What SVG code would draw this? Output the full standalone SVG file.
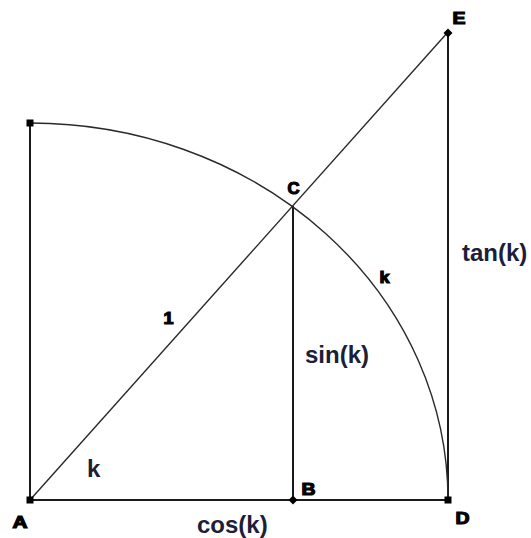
<svg xmlns="http://www.w3.org/2000/svg" width="531" height="538" viewBox="0 0 531 538">
<style>
.ln{stroke:#1a1a1a;stroke-width:2;fill:none}
.thin{stroke:#2a2a2a;stroke-width:1.4;fill:none}
.pt{fill:#000}
.lbl{font-family:"Liberation Sans",Arial,sans-serif;font-weight:bold;font-size:16.5px;fill:#000;stroke:#000;stroke-width:1.2}
.big{font-family:"Liberation Sans",Arial,sans-serif;font-weight:bold;font-size:24px;fill:#1b2038}
</style>
<rect width="531" height="538" fill="#fff"/>
<g id="connectors">
<line class="ln" x1="30" y1="500" x2="30" y2="123"/>
<line class="ln" x1="30" y1="500" x2="448" y2="500"/>
<line class="thin" x1="30" y1="500" x2="448" y2="32"/>
<line class="ln" x1="293" y1="206" x2="293" y2="500"/>
<line class="ln" x1="448" y1="32" x2="448" y2="500"/>
<path class="thin" d="M30,123 A418,377 0 0 1 448,500"/>
</g>
<g id="A"><rect class="pt" x="26.5" y="496.5" width="7" height="7"/><text class="lbl" x="12.5" y="527.5" textLength="15" lengthAdjust="spacingAndGlyphs">A</text></g>
<g id="B"><path class="pt" d="M293,495.5 L297.5,500 L293,504.5 L288.5,500 Z"/><text class="lbl" x="301.5" y="494.5" textLength="14" lengthAdjust="spacingAndGlyphs">B</text></g>
<g id="C"><text class="lbl" x="287.5" y="194" textLength="12" lengthAdjust="spacingAndGlyphs">C</text></g>
<g id="D"><rect class="pt" x="444.5" y="496.5" width="7" height="7"/><text class="lbl" x="455.5" y="524" textLength="14" lengthAdjust="spacingAndGlyphs">D</text></g>
<g id="E"><path class="pt" d="M448,28.5 L452.5,33 L448,37.5 L443.5,33 Z"/><text class="lbl" x="452.5" y="24" textLength="13" lengthAdjust="spacingAndGlyphs">E</text></g>
<g id="top"><rect class="pt" x="26.5" y="119.5" width="7" height="7"/></g>
<g id="labels">
<text class="lbl" x="379.5" y="282.5" textLength="10" lengthAdjust="spacingAndGlyphs">k</text>
<text class="lbl" x="163.5" y="323.5" textLength="10" lengthAdjust="spacingAndGlyphs">1</text>
<text class="big" x="305" y="363">sin(k)</text>
<text class="big" x="462" y="261">tan(k)</text>
<text class="big" x="197" y="533">cos(k)</text>
<text class="big" x="87" y="477">k</text>
</g>
</svg>
